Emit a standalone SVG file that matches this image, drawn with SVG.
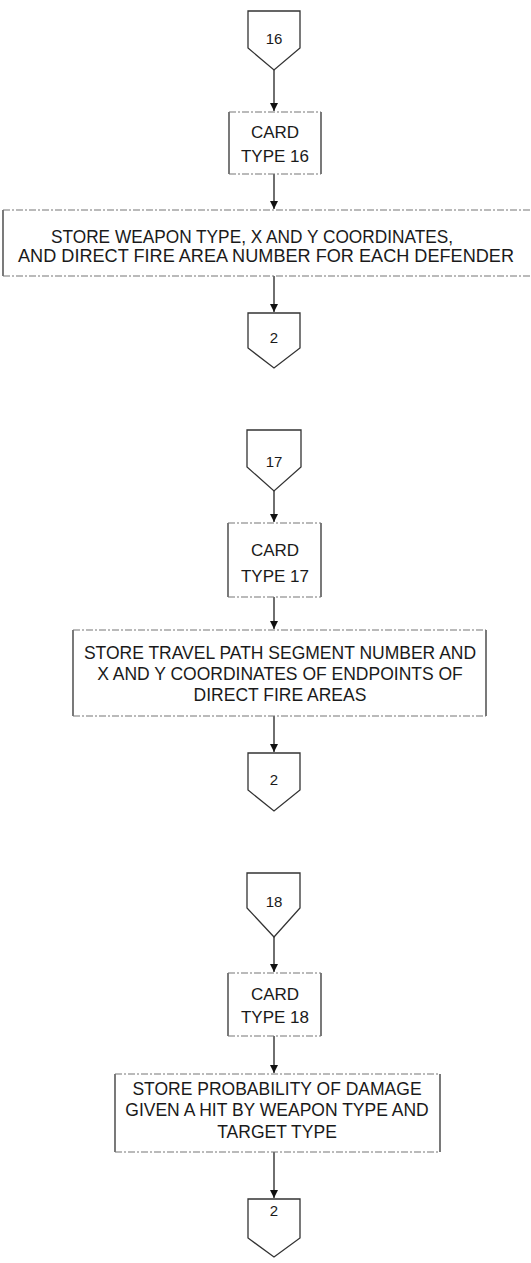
<svg xmlns="http://www.w3.org/2000/svg" width="531" height="1263" viewBox="0 0 531 1263">
<style>
.bg{fill:#ffffff}
.side{fill:none;stroke:#333;stroke-width:1.3}
.edge{fill:none;stroke:#777;stroke-width:1.1;stroke-dasharray:7 2 2 2}
.conn{fill:#fff;stroke:#333;stroke-width:1.3;stroke-linejoin:miter}
.t{font-family:"Liberation Sans",Arial,sans-serif;font-size:17.5px;fill:#1a1a1a;text-anchor:middle}
.c{font-family:"Liberation Sans",Arial,sans-serif;font-size:17px;fill:#1a1a1a;text-anchor:middle}
.n{font-family:"Liberation Sans",Arial,sans-serif;font-size:15px;fill:#1a1a1a;text-anchor:middle}
.flow{fill:none;stroke:#222;stroke-width:1.3}
</style>
<defs>
<marker id="ah" viewBox="0 0 8 16" refX="8" refY="8" markerWidth="8" markerHeight="16" markerUnits="userSpaceOnUse" orient="auto">
<path d="M0,4 L8,8 L0,12 Z" fill="#111"/>
</marker>
</defs>
<rect class="bg" x="0" y="0" width="531" height="1263"/>

<g id="connectors">
<line class="flow" x1="274" y1="70" x2="274" y2="111" marker-end="url(#ah)"/>
<line class="flow" x1="274" y1="174" x2="274" y2="209" marker-end="url(#ah)"/>
<line class="flow" x1="274" y1="276" x2="274" y2="312" marker-end="url(#ah)"/>
<line class="flow" x1="274" y1="491" x2="274" y2="522" marker-end="url(#ah)"/>
<line class="flow" x1="274" y1="597" x2="274" y2="629" marker-end="url(#ah)"/>
<line class="flow" x1="274" y1="716" x2="274" y2="752" marker-end="url(#ah)"/>
<line class="flow" x1="274" y1="937" x2="274" y2="972" marker-end="url(#ah)"/>
<line class="flow" x1="274" y1="1036" x2="274" y2="1073" marker-end="url(#ah)"/>
<line class="flow" x1="274" y1="1152" x2="274" y2="1198" marker-end="url(#ah)"/>
</g>

<g id="c16">
<path class="conn" d="M248,11 L300,11 L300,48 L274,70 L248,48 Z"/>
<text class="n" x="274" y="44">16</text>
</g>

<g id="card16">
<path class="side" d="M229,112 V174 M321,112 V174"/>
<path class="edge" d="M229,112 H321 M229,174 H321"/>
<text class="c" x="275" y="138">CARD</text>
<text class="c" x="275" y="162">TYPE 16</text>
</g>

<g id="store16">
<path class="side" d="M3,210 V276"/>
<path class="edge" d="M3,210 H531 M3,276 H531"/>
<text class="t" x="252" y="243" textLength="402" lengthAdjust="spacingAndGlyphs">STORE WEAPON TYPE, X AND Y COORDINATES,</text>
<text class="t" x="266" y="262" textLength="496" lengthAdjust="spacingAndGlyphs">AND DIRECT FIRE AREA NUMBER FOR EACH DEFENDER</text>
</g>

<g id="off2a">
<path class="conn" d="M248,313 L300,313 L300,348 L274,368 L248,348 Z"/>
<text class="n" x="274" y="343">2</text>
</g>

<g id="c17">
<path class="conn" d="M247,430 L301,430 L301,467 L274,491 L247,467 Z"/>
<text class="n" x="274" y="467">17</text>
</g>

<g id="card17">
<path class="side" d="M228,523 V597 M321,523 V597"/>
<path class="edge" d="M228,523 H321 M228,597 H321"/>
<text class="c" x="275" y="556">CARD</text>
<text class="c" x="275" y="582">TYPE 17</text>
</g>

<g id="store17">
<path class="side" d="M73,630 V716 M486,630 V716"/>
<path class="edge" d="M73,630 H486 M73,716 H486"/>
<text class="t" x="280" y="659">STORE TRAVEL PATH SEGMENT NUMBER AND</text>
<text class="t" x="280" y="680">X AND Y COORDINATES OF ENDPOINTS OF</text>
<text class="t" x="280" y="701">DIRECT FIRE AREAS</text>
</g>

<g id="off2b">
<path class="conn" d="M248,753 L300,753 L300,790 L274,811 L248,790 Z"/>
<text class="n" x="274" y="785">2</text>
</g>

<g id="c18">
<path class="conn" d="M247,873 L300,873 L300,908 L274,937 L247,908 Z"/>
<text class="n" x="274" y="907">18</text>
</g>

<g id="card18">
<path class="side" d="M228,973 V1036 M321,973 V1036"/>
<path class="edge" d="M228,973 H321 M228,1036 H321"/>
<text class="c" x="275" y="1000">CARD</text>
<text class="c" x="275" y="1023">TYPE 18</text>
</g>

<g id="store18">
<path class="side" d="M115,1074 V1152 M440,1074 V1152"/>
<path class="edge" d="M115,1074 H440 M115,1152 H440"/>
<text class="t" x="277" y="1095">STORE PROBABILITY OF DAMAGE</text>
<text class="t" x="277" y="1116">GIVEN A HIT BY WEAPON TYPE AND</text>
<text class="t" x="277" y="1138">TARGET TYPE</text>
</g>

<g id="off2c">
<path class="conn" d="M248,1199 L300,1199 L300,1238 L274,1257 L248,1238 Z"/>
<text class="n" x="274" y="1216">2</text>
</g>
</svg>
